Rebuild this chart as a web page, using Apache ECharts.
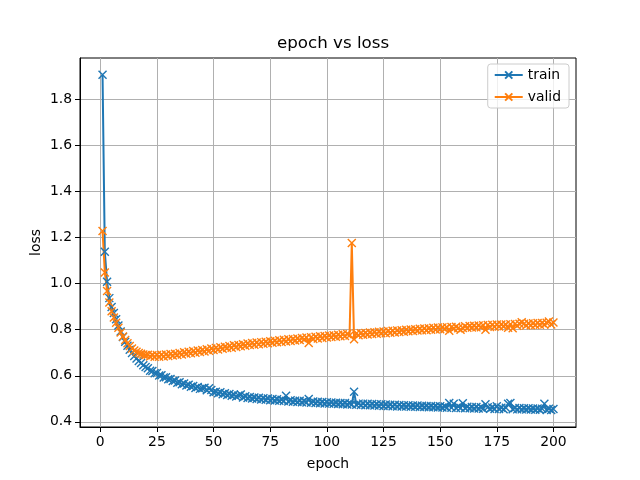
<!DOCTYPE html>
<html>
<head>
<meta charset="utf-8">
<script src="https://cdn.jsdelivr.net/npm/echarts@6/dist/echarts.min.js"></script>
<style>
html, body { margin: 0; padding: 0; background: #fff; }
#chart { width: 640px; height: 480px; }
</style>
</head>
<body>
<div id="chart"></div>
<script>
// loss per epoch (epoch 1..200)
const train = [
  1.907, 1.138, 1.008, 0.937, 0.898, 0.872, 0.845, 0.818, 0.792, 0.768,
  0.748, 0.730, 0.713, 0.699, 0.686, 0.675, 0.664, 0.655, 0.646, 0.638,
  0.633, 0.622, 0.621, 0.611, 0.612, 0.601, 0.602, 0.592, 0.594, 0.585,
  0.586, 0.577, 0.579, 0.570, 0.572, 0.563, 0.566, 0.558, 0.561, 0.552,
  0.556, 0.547, 0.551, 0.543, 0.546, 0.548, 0.537, 0.546, 0.538, 0.528,
  0.531, 0.524, 0.528, 0.520, 0.524, 0.516, 0.521, 0.513, 0.517, 0.510,
  0.514, 0.519, 0.506, 0.511, 0.503, 0.508, 0.501, 0.506, 0.499, 0.504,
  0.497, 0.502, 0.496, 0.501, 0.494, 0.499, 0.493, 0.498, 0.491, 0.496,
  0.490, 0.513, 0.488, 0.494, 0.487, 0.492, 0.486, 0.491, 0.485, 0.490,
  0.484, 0.499, 0.483, 0.488, 0.482, 0.487, 0.481, 0.486, 0.480, 0.485,
  0.479, 0.484, 0.478, 0.483, 0.477, 0.482, 0.476, 0.482, 0.475, 0.481,
  0.475, 0.531, 0.474, 0.479, 0.473, 0.479, 0.472, 0.478, 0.472, 0.477,
  0.471, 0.476, 0.470, 0.476, 0.469, 0.475, 0.469, 0.474, 0.468, 0.474,
  0.467, 0.473, 0.467, 0.472, 0.466, 0.472, 0.465, 0.471, 0.465, 0.471,
  0.464, 0.470, 0.464, 0.469, 0.463, 0.469, 0.463, 0.468, 0.462, 0.468,
  0.462, 0.467, 0.461, 0.482, 0.461, 0.478, 0.460, 0.466, 0.460, 0.481,
  0.459, 0.465, 0.459, 0.464, 0.458, 0.464, 0.458, 0.463, 0.457, 0.476,
  0.463, 0.457, 0.462, 0.456, 0.468, 0.456, 0.461, 0.455, 0.461, 0.478,
  0.482, 0.455, 0.460, 0.454, 0.460, 0.454, 0.459, 0.453, 0.459, 0.453,
  0.458, 0.452, 0.458, 0.452, 0.457, 0.478, 0.451, 0.457, 0.451, 0.456
];
const valid = [
  1.228, 1.048, 0.968, 0.918, 0.880, 0.853, 0.830, 0.808, 0.788, 0.770,
  0.755, 0.741, 0.729, 0.718, 0.710, 0.704, 0.699, 0.695, 0.692, 0.690,
  0.691, 0.684, 0.689, 0.683, 0.690, 0.682, 0.691, 0.684, 0.692, 0.686,
  0.694, 0.688, 0.696, 0.690, 0.699, 0.692, 0.702, 0.695, 0.704, 0.698,
  0.707, 0.700, 0.710, 0.703, 0.712, 0.705, 0.715, 0.708, 0.718, 0.712,
  0.721, 0.714, 0.724, 0.717, 0.726, 0.720, 0.729, 0.722, 0.732, 0.725,
  0.734, 0.728, 0.737, 0.730, 0.740, 0.733, 0.742, 0.735, 0.744, 0.737,
  0.746, 0.739, 0.748, 0.741, 0.750, 0.743, 0.752, 0.745, 0.754, 0.747,
  0.756, 0.749, 0.758, 0.751, 0.760, 0.753, 0.762, 0.755, 0.764, 0.757,
  0.766, 0.742, 0.767, 0.760, 0.769, 0.762, 0.771, 0.764, 0.773, 0.766,
  0.775, 0.768, 0.776, 0.769, 0.778, 0.771, 0.780, 0.773, 0.781, 0.775,
  1.176, 0.758, 0.783, 0.776, 0.785, 0.778, 0.786, 0.779, 0.788, 0.781,
  0.789, 0.782, 0.791, 0.784, 0.792, 0.785, 0.794, 0.787, 0.795, 0.788,
  0.797, 0.790, 0.798, 0.791, 0.800, 0.793, 0.801, 0.794, 0.802, 0.796,
  0.804, 0.797, 0.805, 0.798, 0.806, 0.800, 0.808, 0.801, 0.809, 0.802,
  0.810, 0.803, 0.811, 0.795, 0.812, 0.805, 0.813, 0.806, 0.800, 0.807,
  0.815, 0.808, 0.816, 0.809, 0.817, 0.810, 0.818, 0.811, 0.819, 0.800,
  0.820, 0.812, 0.821, 0.813, 0.822, 0.814, 0.822, 0.815, 0.823, 0.808,
  0.824, 0.806, 0.825, 0.817, 0.826, 0.832, 0.826, 0.818, 0.827, 0.819,
  0.828, 0.820, 0.829, 0.821, 0.829, 0.822, 0.830, 0.836, 0.823, 0.831
];
const xTicks = [0, 25, 50, 75, 100, 125, 150, 175, 200];
const yTicks = [0.4, 0.6, 0.8, 1.0, 1.2, 1.4, 1.6, 1.8];
const epochs = train.map((v, i) => i + 1);

const font = 'DejaVu Sans';
const xMark = 'path://M0,0L10,10M10,0L0,10';

function makeSeries(name, values, color) {
  return {
    name: name,
    type: 'line',
    data: epochs.map((e, i) => [e, values[i]]),
    symbol: xMark,
    symbolSize: 8,
    showAllSymbol: true,
    lineStyle: { color: color, width: 2 },
    itemStyle: { color: color, borderColor: color, borderWidth: 1.4 },
    emphasis: { disabled: true },
  }
}

const axisText = { fontFamily: font, fontSize: 13.9, color: '#000' }

let option = {
  animation: false,
  title: {
    text: 'epoch vs loss',
    left: 328,
    top: 30,
    textAlign: 'center',
    textStyle: { fontFamily: font, fontSize: 16.7, fontWeight: 'normal', color: '#000' },
  },
  legend: {
    data: ['train', 'valid'],
    orient: 'vertical',
    right: 71,
    top: 64,
    itemWidth: 28,
    itemHeight: 9,
    itemGap: 8,
    padding: [4, 8, 4, 6],
    backgroundColor: 'rgba(255,255,255,0.8)',
    borderColor: '#cccccc',
    borderWidth: 1,
    borderRadius: 3,
    textStyle: axisText,
  },
  grid: {
    left: 80,
    right: 64,
    top: 58,
    bottom: 53,
    show: true,
    borderColor: '#000',
    borderWidth: 1,
  },
  xAxis: {
    type: 'value',
    min: -8.95,
    max: 209.95,
    name: 'epoch',
    nameLocation: 'middle',
    nameGap: 30,
    nameTextStyle: axisText,
    axisLine: { onZero: false, lineStyle: { color: '#000', width: 1 } },
    axisTick: { customValues: xTicks, length: 5, lineStyle: { color: '#000' } },
    axisLabel: { customValues: xTicks, margin: 8, ...axisText },
    splitLine: { show: true, lineStyle: { color: '#b0b0b0', width: 1 } },
  },
  yAxis: {
    type: 'value',
    min: 0.3775,
    max: 1.9795,
    name: 'loss',
    nameLocation: 'middle',
    nameRotate: 90,
    nameGap: 37,
    nameMoveOverlap: false,
    nameTextStyle: axisText,
    axisLine: { show: true, onZero: false, lineStyle: { color: '#000', width: 1 } },
    axisTick: { show: true, customValues: yTicks, length: 5, lineStyle: { color: '#000' } },
    axisLabel: { customValues: yTicks, margin: 8, formatter: v => v.toFixed(1), ...axisText },
    splitLine: { show: true, lineStyle: { color: '#b0b0b0', width: 1 } },
  },
  series: [
    makeSeries('train', train, '#1f77b4'),
    makeSeries('valid', valid, '#ff7f0e'),
  ]
}

const chart = echarts.init(document.getElementById('chart'))
chart.setOption(option)
</script>
</body>
</html>
